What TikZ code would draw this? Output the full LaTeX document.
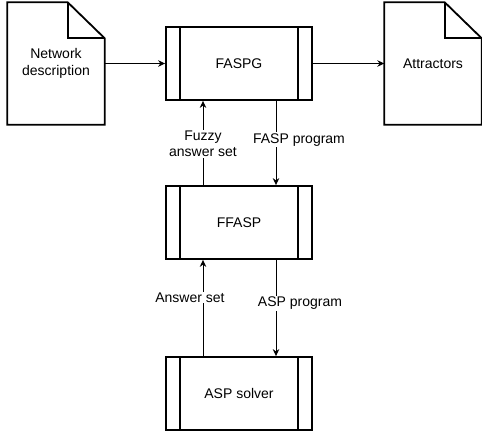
\documentclass[tikz,border=0pt]{standalone}
\usepackage{fontspec}
\setmainfont{Liberation Sans}
\usetikzlibrary{arrows.meta}
\begin{document}
\begin{tikzpicture}[x = 1pt, y = 1pt, font = \fontsize{14}{16.5}\selectfont,
        doc/.style = {minimum width = 97pt, minimum height = 122pt, inner sep = 0pt, align = center},
        proc/.style = {draw, line width = 1.8pt, minimum width = 146pt, minimum height = 73pt, inner sep = 0pt},
        outline/.style = {line width = 1.8pt, line join = miter},
        link/.style = {line width = 1pt, -{Stealth[length = 7pt, width = 6.5pt]}},
        tag/.style = {fill = white, inner sep = 1pt, align = center}]
    \useasboundingbox (0, 0) rectangle (482, -436);
    % documents
    \node [doc] (net) at (56, -63.5) {Network\\description};
    \node [doc] (attr) at (433, -63.5) {Attractors};
    \foreach \d in {net, attr} {
        \draw [outline] (\d.south west) -- (\d.north west) -- ([xshift = -37]\d.north east)
            -- ([yshift = -36]\d.north east) -- (\d.south east) -- cycle;
        \draw [outline] ([xshift = -37]\d.north east) -- ([xshift = -37, yshift = -36]\d.north east)
            -- ([yshift = -36]\d.north east);
    }
    % processes
    \node [proc] (faspg) at (239, -63.5) {FASPG};
    \node [proc] (ffasp) at (239, -222.5) {FFASP};
    \node [proc] (solver) at (239, -393.5) {ASP solver};
    \foreach \p in {faspg, ffasp, solver} {
        \draw [outline] ([xshift = 15]\p.north west) -- ([xshift = 15]\p.south west);
        \draw [outline] ([xshift = -15]\p.north east) -- ([xshift = -15]\p.south east);
    }
    % connectors
    \draw [link] (net) -- (faspg);
    \draw [link] (faspg) -- (attr);
    \draw [link] ([xshift = -36]ffasp.north) -- node [tag, pos = 0.49] {Fuzzy\\answer set} ([xshift = -36]faspg.south);
    \draw [link] ([xshift = 37]faspg.south) -- node [tag, pos = 0.46, xshift = 23] {FASP program} ([xshift = 37]ffasp.north);
    \draw [link] ([xshift = -36]solver.north) -- node [tag, pos = 0.61, xshift = -13] {Answer set} ([xshift = -36]ffasp.south);
    \draw [link] ([xshift = 37]ffasp.south) -- node [tag, pos = 0.45, xshift = 24] {ASP program} ([xshift = 37]solver.north);
\end{tikzpicture}
\end{document}
